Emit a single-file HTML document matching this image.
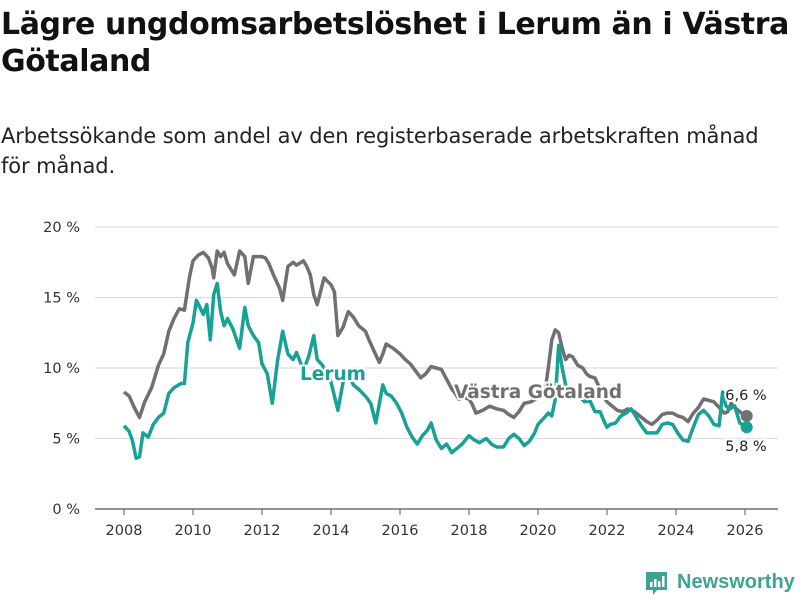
<!DOCTYPE html>
<html><head><meta charset="utf-8">
<style>
body{margin:0;width:800px;height:600px;background:#fff;font-family:"DejaVu Sans","Liberation Sans",sans-serif;overflow:hidden;position:relative}
#title{position:absolute;left:1px;top:6px;font-size:30px;font-weight:bold;line-height:37px;color:#111;width:799px;letter-spacing:-0.4px}
#sub{position:absolute;left:1px;top:121px;font-size:21px;line-height:30px;color:#222;width:790px;letter-spacing:-0.1px}
svg{position:absolute;left:0;top:0}
</style></head><body>
<div id="title">Lägre ungdomsarbetslöshet i Lerum än i Västra Götaland</div>
<div id="sub">Arbetssökande som andel av den registerbaserade arbetskraften månad för månad.</div>
<svg id="chart" width="800" height="600"></svg>
<div style="position:absolute;left:645px;top:571px;width:155px;height:26px">
<svg width="24" height="26" style="position:absolute;left:0;top:0"><path d="M1 1h21v18h-10l-4 5v-5h-7z" fill="#3aa495"/><rect x="5" y="11" width="2.5" height="5" fill="#fff"/><rect x="9" y="8" width="2.5" height="8" fill="#fff"/><rect x="13" y="10" width="2.5" height="6" fill="#fff"/><rect x="17" y="5" width="2.5" height="11" fill="#fff"/></svg>
<span style="position:absolute;left:32px;top:0;font-size:20px;font-weight:bold;color:#3aa495;font-family:'Liberation Sans',sans-serif">Newsworthy</span></div>
<script>
const vgYears=[2008.0,2008.15,2008.3,2008.45,2008.6,2008.8,2009.0,2009.15,2009.3,2009.45,2009.6,2009.75,2009.9,2010.0,2010.15,2010.3,2010.45,2010.55,2010.6,2010.7,2010.8,2010.9,2011.0,2011.1,2011.2,2011.35,2011.5,2011.6,2011.75,2012.0,2012.1,2012.2,2012.35,2012.5,2012.6,2012.75,2012.9,2013.0,2013.2,2013.3,2013.4,2013.5,2013.6,2013.8,2014.0,2014.1,2014.2,2014.35,2014.5,2014.65,2014.8,2015.0,2015.1,2015.25,2015.4,2015.5,2015.6,2015.8,2016.0,2016.15,2016.3,2016.45,2016.6,2016.75,2016.9,2017.05,2017.2,2017.35,2017.5,2017.6,2017.7,2017.85,2018.0,2018.1,2018.2,2018.4,2018.6,2018.8,2019.0,2019.15,2019.3,2019.45,2019.6,2019.8,2020.0,2020.1,2020.2,2020.3,2020.4,2020.5,2020.6,2020.7,2020.8,2020.9,2021.0,2021.15,2021.3,2021.4,2021.5,2021.65,2021.8,2021.9,2022.0,2022.15,2022.3,2022.45,2022.6,2022.8,2023.0,2023.15,2023.3,2023.45,2023.6,2023.75,2023.9,2024.05,2024.2,2024.35,2024.5,2024.65,2024.8,2024.95,2025.1,2025.25,2025.4,2025.5,2025.6,2025.75,2025.9,2026.05];
const vgValues=[8.3,8.0,7.2,6.5,7.6,8.6,10.2,11.0,12.6,13.5,14.2,14.1,16.5,17.6,18.0,18.2,17.8,17.1,16.4,18.3,17.9,18.2,17.4,17.0,16.6,18.3,17.9,16.0,17.9,17.9,17.8,17.4,16.5,15.7,14.8,17.2,17.5,17.3,17.6,17.2,16.6,15.2,14.5,16.4,15.9,15.4,12.3,12.9,14.0,13.6,13.0,12.6,12.0,11.2,10.4,11.0,11.7,11.4,11.0,10.6,10.3,9.8,9.3,9.6,10.1,10.0,9.9,9.2,8.5,8.2,7.8,7.9,7.8,7.4,6.8,7.0,7.3,7.1,7.0,6.7,6.5,6.9,7.5,7.6,7.9,8.0,8.3,10.0,12.0,12.7,12.5,11.4,10.6,10.9,10.8,10.2,10.0,9.6,9.4,9.3,8.5,8.0,7.6,7.3,7.0,6.9,7.1,6.9,6.5,6.2,6.0,6.3,6.7,6.8,6.8,6.6,6.5,6.2,6.8,7.2,7.8,7.7,7.6,7.2,6.8,6.9,7.5,7.1,6.8,6.6];
const leYears=[2008.0,2008.15,2008.25,2008.35,2008.45,2008.55,2008.7,2008.85,2009.0,2009.15,2009.3,2009.45,2009.65,2009.75,2009.85,2010.0,2010.1,2010.2,2010.3,2010.4,2010.5,2010.6,2010.7,2010.8,2010.9,2011.0,2011.15,2011.35,2011.5,2011.6,2011.75,2011.9,2012.0,2012.15,2012.3,2012.45,2012.6,2012.75,2012.9,2013.0,2013.1,2013.2,2013.35,2013.5,2013.6,2013.75,2013.9,2014.0,2014.2,2014.35,2014.5,2014.65,2014.8,2015.0,2015.15,2015.3,2015.5,2015.6,2015.75,2015.9,2016.05,2016.2,2016.35,2016.5,2016.65,2016.8,2016.9,2017.05,2017.2,2017.35,2017.5,2017.65,2017.8,2018.0,2018.15,2018.3,2018.5,2018.65,2018.8,2019.0,2019.15,2019.3,2019.45,2019.6,2019.75,2019.9,2020.0,2020.15,2020.3,2020.4,2020.5,2020.6,2020.7,2020.8,2020.9,2021.05,2021.2,2021.35,2021.5,2021.65,2021.8,2021.9,2022.0,2022.1,2022.25,2022.4,2022.55,2022.7,2022.85,2023.0,2023.15,2023.3,2023.45,2023.6,2023.75,2023.9,2024.05,2024.2,2024.35,2024.5,2024.65,2024.8,2024.95,2025.1,2025.25,2025.35,2025.45,2025.55,2025.7,2025.85,2026.05];
const leValues=[5.9,5.5,4.8,3.6,3.7,5.4,5.1,6.0,6.5,6.8,8.2,8.6,8.9,8.9,11.8,13.2,14.8,14.3,13.8,14.5,12.0,15.2,16.0,14.0,13.0,13.5,12.8,11.4,14.3,13.0,12.3,11.8,10.3,9.6,7.5,10.5,12.6,11.0,10.6,11.1,10.5,9.8,10.8,12.3,10.6,10.2,9.5,9.0,7.0,9.0,9.6,8.8,8.5,8.0,7.5,6.1,8.8,8.2,8.0,7.5,6.8,5.8,5.1,4.6,5.2,5.6,6.1,4.9,4.3,4.6,4.0,4.3,4.6,5.2,4.9,4.7,5.0,4.6,4.4,4.4,5.0,5.3,5.0,4.5,4.8,5.4,6.0,6.4,6.8,6.6,7.8,11.6,10.0,8.8,8.2,8.1,8.0,7.6,7.7,6.9,6.9,6.3,5.8,6.0,6.1,6.6,6.8,7.1,6.5,5.9,5.4,5.4,5.4,6.0,6.1,6.0,5.4,4.9,4.8,5.8,6.7,7.0,6.6,6.0,5.9,8.3,7.3,7.1,7.3,6.1,5.8];
const yTicks=[0,5,10,15,20];
const xTicks=[2008,2010,2012,2014,2016,2018,2020,2022,2024,2026];
const NS="http://www.w3.org/2000/svg";
const svg=document.getElementById('chart');
const X=y=>124+(y-2008)*34.5;
const Y=v=>509-v*14.1;
function mk(t,a){const e=document.createElementNS(NS,t);for(const k in a)e.setAttribute(k,a[k]);svg.appendChild(e);return e;}
yTicks.forEach(t=>{
 const l=mk('line',{x1:95,x2:778,y1:Y(t),y2:Y(t),stroke:t===0?'#555':'#ddd','stroke-width':t===0?1.2:1.3});
 
 
 const tx=mk('text',{x:80,y:Y(t)+5,'text-anchor':'end','font-size':14.5,fill:'#333'});
 tx.textContent=t+' %';
 
 
});
xTicks.forEach(t=>{
 const l=mk('line',{x1:X(t),x2:X(t),y1:509,y2:515,stroke:'#555'});
 
 
 const tx=mk('text',{x:X(t),y:535,'text-anchor':'middle','font-size':14.5,fill:'#333'});
 tx.textContent=t;
 
 
});
function line(xs,vs,c,n){
 const d=xs.map((x,i)=>(i?'L':'M')+X(x).toFixed(1)+','+Y(vs[i]).toFixed(1)).join('');
 const p=mk('path',{d:d,fill:'none',stroke:c,'stroke-width':3.5,'stroke-linejoin':'round'});
 
 
 const dot=mk('circle',{cx:X(xs[xs.length-1]),cy:Y(vs[vs.length-1]),r:6,fill:c});
 
 
}
line(vgYears,vgValues,'#706f71','vastra-gotaland-line');
line(leYears,leValues,'#17a295','lerum-line');
function lab(x,y,t,c,n,bold,size,anchor){
 const e=mk('text',{x:x,y:y,'font-size':size,'font-weight':bold?'bold':'normal',fill:c,stroke:'#fff','stroke-width':4,'paint-order':'stroke','text-anchor':anchor||'start'});
 e.textContent=t;
 
 
}
lab(300,380,'Lerum','#17a295','lerum-label',true,18.5);
lab(454,398,'Västra Götaland','#706f71','vastra-gotaland-label',true,18.5);
lab(746,400,'6,6 %','#222','vastra-gotaland-end-value',false,14.5,'middle');
lab(746,451,'5,8 %','#222','lerum-end-value',false,14.5,'middle');
</script>
</body></html>
